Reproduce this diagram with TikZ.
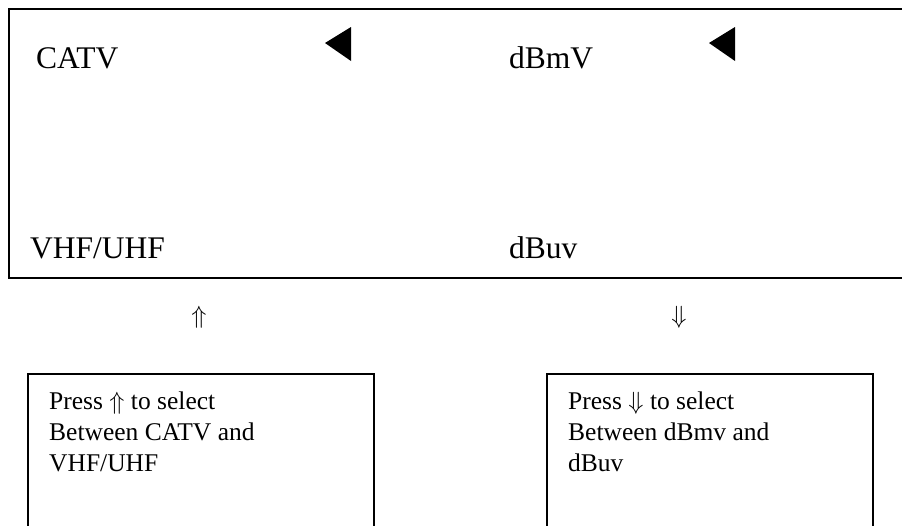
\documentclass[tikz,border=0pt]{standalone}
\usepackage{fontspec}
\setmainfont{Liberation Serif}
\usepackage{tikz}
\usetikzlibrary{positioning}
\usetikzlibrary{calc}

\begin{document}
\begin{tikzpicture}[
                      x=1pt, y=-1pt,
                      big/.style={anchor=base west, inner sep=0pt, font=\fontsize{31.5}{36}\selectfont},
                      note/.style={anchor=base west, inner sep=0pt, align=left, font=\fontsize{25.5}{31}\selectfont},
                      key/.style={inner sep=0pt, font=\fontsize{30}{32}\selectfont},
                      frame/.style={line width=1.5pt}
                  ]
                  \useasboundingbox (0,0) rectangle (902,525);
                  \clip (0,0) rectangle (902,525);
                  % display window
                  \draw[frame] (9,9) rectangle (915,278);
                  \node[big] at (36,68) (catv) {CATV};
                  \node[big] at (509,68) (dbmv) {dBmV};
                  \node[big] at (30,258) (vhf) {VHF/UHF};
                  \node[big] at (509,258) (dbuv) {dBuv};
                  % cursor marks
                  \fill (325,43) -- (351,27) -- (351,61) -- cycle;
                  \fill (709,43) -- (735,27) -- (735,61) -- cycle;
                  % keys
                  \node[key] at (199,317) (up) {$\Uparrow$};
                  \node[key] at (679,317) (down) {$\Downarrow$};
                  % help boxes (base = last line)
                  \draw[frame] (28,540) -- (28,374) -- (374,374) -- (374,540);
                  \draw[frame] (547,540) -- (547,374) -- (873,374) -- (873,540);
                  \node[note] at (49,471) (helpup) {Press $\Uparrow$ to select\\Between CATV and\\VHF/UHF};
                  \node[note] at (568,471) (helpdown) {Press $\Downarrow$ to select\\Between dBmv and\\dBuv};
              \end{tikzpicture}
\end{document}
